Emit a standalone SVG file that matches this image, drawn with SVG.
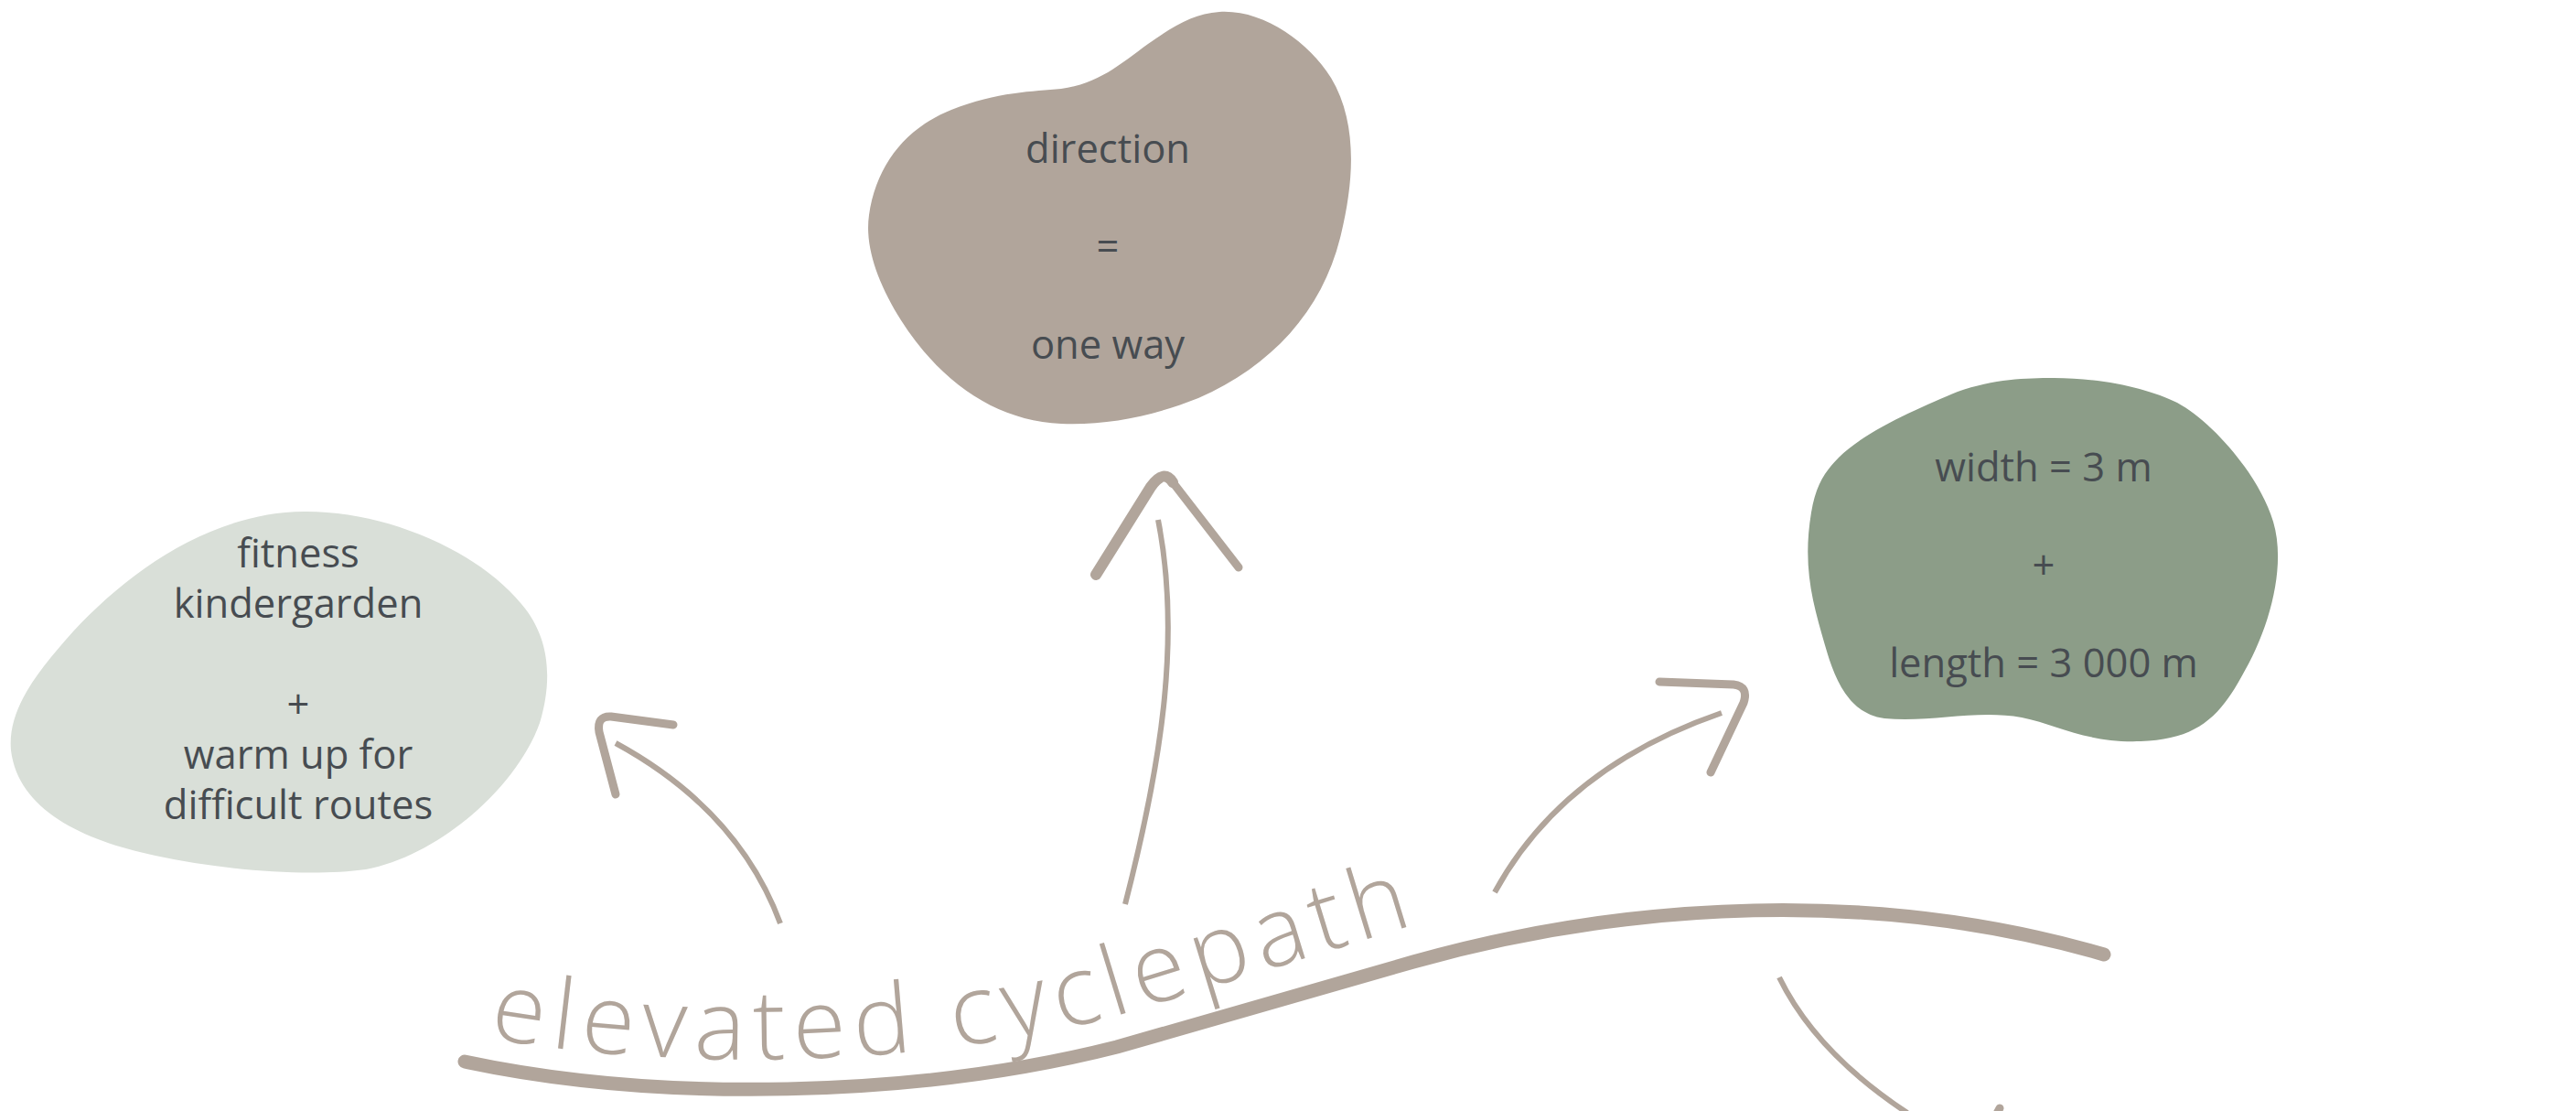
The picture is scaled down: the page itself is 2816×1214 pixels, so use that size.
<svg xmlns="http://www.w3.org/2000/svg" width="2816" height="1214" viewBox="0 0 2816 1214">
  <defs>
    <style>
      .label { font-family: "Open Sans", "Liberation Sans", sans-serif; font-size: 43.5px; fill: #474C51; text-anchor: middle; }
      .shaft { fill: none; stroke: #B1A59B; stroke-width: 6; stroke-linecap: butt; }
      .head { fill: none; stroke: #B1A59B; stroke-width: 9; stroke-linecap: round; stroke-linejoin: round; }
      .head-bold { fill: none; stroke: #B1A59B; stroke-width: 12; stroke-linecap: round; stroke-linejoin: round; }
      .road { fill: none; stroke: #B1A59B; stroke-width: 15; stroke-linecap: round; }
      .title { font-family: "Open Sans", "Liberation Sans", sans-serif; font-size: 106px; font-weight: 300; fill: #B1A59B; letter-spacing: 9px; }
    </style>
    <path id="titlePath" d="M500,1128 C720,1172 1000,1168 1221,1110 L1600,994"/>
  </defs>
  <rect width="2816" height="1214" fill="#FFFFFF"/>

  <!-- direction node -->
  <g id="node-direction">
    <path fill="#B1A59B" d="M1333,13 C1380,10 1430,45 1455,85 C1485,135 1480,200 1465,260 C1445,340 1390,400 1310,435 C1260,455 1210,465 1160,463 C1090,460 1030,420 985,350 C960,310 945,270 950,235 C958,180 990,140 1040,120 C1090,100 1130,100 1160,97 C1200,92 1225,70 1255,48 C1285,27 1305,15 1333,13 Z"/>
    <text class="label" x="1211" y="178">direction</text>
    <text class="label" x="1211" y="285">=</text>
    <text class="label" x="1211" y="392">one way</text>
  </g>

  <!-- fitness node -->
  <g id="node-fitness">
    <path fill="#D9DFD8" d="M332,559 C420,558 520,600 570,660 C600,695 605,740 590,790 C565,860 480,935 400,950 C340,958 250,952 170,935 C90,918 20,885 12,820 C8,775 40,735 80,690 C140,625 230,560 332,559 Z"/>
    <text class="label" x="326" y="620">fitness</text>
    <text class="label" x="326" y="675">kindergarden</text>
    <text class="label" x="326" y="785">+</text>
    <text class="label" x="326" y="840">warm up for</text>
    <text class="label" x="326" y="895">difficult routes</text>
  </g>

  <!-- dimensions node -->
  <g id="node-dimensions">
    <path fill="#8C9D88" d="M2245,413 C2300,413 2350,425 2380,440 C2420,462 2470,520 2485,570 C2500,620 2480,690 2450,740 C2425,785 2400,808 2340,810 C2280,812 2250,792 2210,784 C2160,775 2110,790 2060,785 C2020,780 2005,740 1995,705 C1982,660 1970,620 1980,560 C1985,530 1995,515 2010,500 C2040,470 2100,445 2140,428 C2180,414 2215,413 2245,413 Z"/>
    <text class="label" x="2234" y="526">width = 3 m</text>
    <text class="label" x="2234" y="633">+</text>
    <text class="label" x="2234" y="740">length = 3 000 m</text>
  </g>

  <!-- cycle path with its name -->
  <g id="node-cyclepath">
    <path class="road" d="M508,1160 C720,1205 1000,1200 1221,1144 L1545,1051 C1780,985 2050,970 2300,1043"/>
    <text class="title"><textPath href="#titlePath" startOffset="35">elevated cyclepath</textPath></text>
  </g>

  <!-- connectors -->
  <g id="connectors">
    <path class="shaft" d="M853,1009 Q807,885 673,812"/>
    <path class="head" d="M736,792 L668,783 Q652,782 655,800 L673,868"/>

    <path class="shaft" d="M1230,988 C1268,840 1292,700 1266,568"/>
    <path class="head-bold" d="M1198,628 L1258,532 Q1272,512 1282,527"/>
    <path class="head" d="M1282,527 L1354,620"/>

    <path class="shaft" d="M1634,975 Q1708,839 1882,779"/>
    <path class="head" d="M1814,745 L1895,748 Q1912,750 1906,768 L1870,844"/>

    <path class="shaft" d="M1945,1068 Q1985,1150 2085,1216"/>
    <path class="head" d="M2186,1211 L2176,1230"/>
  </g>
</svg>
